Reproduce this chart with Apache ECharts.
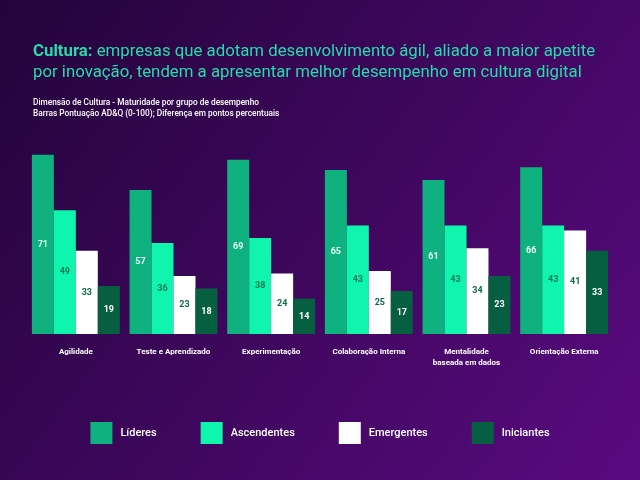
<!DOCTYPE html>
<html>
<head>
<meta charset="utf-8">
<script src="https://cdn.jsdelivr.net/npm/echarts@6/dist/echarts.min.js"></script>
<style>
  html, body { margin: 0; padding: 0; }
  #chart { width: 640px; height: 480px; }
</style>
</head>
<body>
<div id="chart"></div>
<script>
// dados
const categorias = ["Agilidade", "Teste e Aprendizado", "Experimentação", "Colaboração Interna", "Mentalidade\nbaseada em dados", "Orientação Externa"];
const lideres = [71, 57, 69, 65, 61, 66];
const ascendentes = [49, 36, 38, 43, 43, 43];
const emergentes = [33, 23, 24, 25, 34, 41];
const iniciantes = [19, 18, 14, 17, 23, 33];

const chart = echarts.init(document.getElementById("chart"));

const serie = (name, data, color, labelColor) => ({
  name: name,
  type: "bar",
  data: data,
  barGap: "0%",
  barCategoryGap: "10%",
  itemStyle: { color: color },
  label: {
    show: true,
    position: "inside",
    color: labelColor,
    fontFamily: "Roboto",
    fontWeight: "bold",
    fontSize: 9,
  },
});

const option = {
  backgroundColor: {
    type: "linear", x: 0, y: 0, x2: 1, y2: 1,
    colorStops: [
      { offset: 0, color: "#23043a" },
      { offset: 1, color: "#5a0a80" },
    ],
  },
  title: [
    {
      left: 33,
      top: 41,
      padding: 0,
      text: "{b|Cultura:} empresas que adotam desenvolvimento ágil, aliado a maior apetite\npor inovação, tendem a apresentar melhor desempenho em cultura digital",
      textStyle: {
        color: "#26dcaa",
        fontFamily: "Roboto",
        fontWeight: "normal",
        fontSize: 16.8,
        lineHeight: 21,
        rich: {
          b: { color: "#26dcaa", fontFamily: "Roboto", fontWeight: "bold", fontSize: 16.8, lineHeight: 21 },
        },
      },
    },
    {
      left: 33,
      top: 97,
      padding: 0,
      text: "Dimensão de Cultura - Maturidade por grupo de desempenho\nBarras Pontuação AD&Q (0-100); Diferença em pontos percentuais",
      textStyle: {
        color: "#ffffff",
        fontFamily: "Roboto",
        fontWeight: 500,
        fontSize: 8.3,
        lineHeight: 11,
      },
    },
  ],
  legend: {
    bottom: 31,
    left: "center",
    itemWidth: 22,
    itemHeight: 22,
    itemGap: 44,
    icon: "rect",
    textStyle: {
      color: "#ffffff",
      fontFamily: "Roboto",
      fontWeight: 500,
      fontSize: 11,
      padding: [0, 0, 0, 3],
    },
  },
  grid: {
    left: 27,
    right: 27,
    top: 132,
    bottom: 146,
  },
  xAxis: {
    type: "category",
    data: categorias,
    axisLine: { show: false },
    axisTick: { show: false },
    axisLabel: {
      color: "#ffffff",
      fontFamily: "Roboto",
      fontWeight: "bold",
      fontSize: 8,
      margin: 12,
      lineHeight: 11,
      interval: 0,
    },
  },
  yAxis: {
    type: "value",
    min: 0,
    max: 80,
    show: false,
    splitLine: { show: false },
  },
  series: [
    serie("Líderes", lideres, "#0fb17f", "#e8fff6"),
    serie("Ascendentes", ascendentes, "#10f5ae", "#0b7a55"),
    serie("Emergentes", emergentes, "#ffffff", "#0b6a4a"),
    serie("Iniciantes", iniciantes, "#065f41", "#ffffff"),
  ],
};

chart.setOption(option);
window.addEventListener("resize", chart.resize);
</script>
</body>
</html>
